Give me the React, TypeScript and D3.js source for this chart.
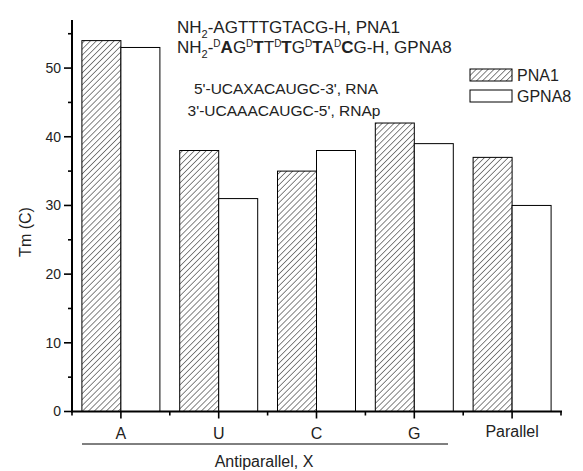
import React from 'react';
import { scaleBand, scaleLinear, range } from 'd3';

const categories = ['A', 'U', 'C', 'G', 'Parallel'];
const seriesNames = ['PNA1', 'GPNA8'];
const pna1 = [54, 38, 35, 42, 37];
const gpna8 = [53, 31, 38, 39, 30];
const majorTicks = [0, 10, 20, 30, 40, 50];
const minorTicks = [5, 15, 25, 35, 45, 55];

const W = 583;
const H = 471;
const FONT = "'Liberation Sans', Arial, sans-serif";

const App = () => {
  const left = 72;
  const right = 561;
  const top = 20;
  const bottom = 411.5;

  const x = scaleBand().domain(categories).range([left, right]).paddingInner(0).paddingOuter(0);
  const xSub = scaleBand().domain(seriesNames).range([0, x.bandwidth()]).paddingInner(0).paddingOuter(0.254);
  const y = scaleLinear().domain([0, 57]).range([bottom, top]);

  const values = { PNA1: pna1, GPNA8: gpna8 };

  const bars = categories.flatMap((c, i) =>
    seriesNames.map(s => {
      const v = values[s][i];
      return (
        <rect
          key={c + s}
          x={x(c) + xSub(s)}
          y={y(v)}
          width={xSub.bandwidth()}
          height={bottom - y(v)}
          fill={s === 'PNA1' ? 'url(#hatch)' : '#fff'}
          stroke="#000"
          strokeWidth={1}
        />
      );
    })
  );

  // edges of the category bands, for the small ticks
  const edges = range(categories.length + 1).map(i => left + i * x.step());

  return (
    <svg width={W} height={H} style={{ position: 'absolute', left: 0, top: 0, background: '#fff' }} fontFamily={FONT}>
      <defs>
        <pattern id="hatch" width={4.2} height={4.2} patternUnits="userSpaceOnUse" patternTransform="rotate(45)">
          <rect width={4.2} height={4.2} fill="#fff" />
          <line x1={0} y1={0} x2={0} y2={4.2} stroke="#222" strokeWidth={1.1} />
        </pattern>
      </defs>

      {bars}

      {/* y axis */}
      <line x1={left} y1={top} x2={left} y2={bottom + 1} stroke="#000" strokeWidth={2} />
      {majorTicks.map(t => (
        <g key={'M' + t}>
          <line x1={left - 8} x2={left} y1={y(t)} y2={y(t)} stroke="#000" strokeWidth={1.6} />
          <text x={61} y={y(t)} dy="0.35em" textAnchor="end" fontSize={14} fill="#222">{t}</text>
        </g>
      ))}
      {minorTicks.map(t => (
        <line key={'m' + t} x1={left - 4} x2={left} y1={y(t)} y2={y(t)} stroke="#000" strokeWidth={1.6} />
      ))}
      <text transform={`translate(31,232) rotate(-90)`} textAnchor="middle" fontSize={16} fill="#222">Tm (C)</text>

      {/* x axis */}
      <line x1={left - 1} y1={bottom} x2={right + 1} y2={bottom} stroke="#000" strokeWidth={2} />
      {edges.map((e, i) => (
        <line key={'e' + i} x1={e} x2={e} y1={bottom} y2={bottom + 4} stroke="#000" strokeWidth={1.6} />
      ))}
      {categories.map(c => (
        <g key={'c' + c}>
          <line x1={x(c) + x.bandwidth() / 2} x2={x(c) + x.bandwidth() / 2} y1={bottom} y2={bottom + 7} stroke="#000" strokeWidth={1.6} />
          <text x={x(c) + x.bandwidth() / 2} y={c === 'Parallel' ? 437 : 439} textAnchor="middle" fontSize={16} fill="#222">{c}</text>
        </g>
      ))}
      <line x1={82} x2={448} y1={444} y2={444} stroke="#000" strokeWidth={1} />
      <text x={264} y={467} textAnchor="middle" fontSize={16} fill="#222">Antiparallel, X</text>

      {/* legend */}
      {seriesNames.map((s, i) => (
        <g key={'lg' + s} transform={`translate(470,${69 + i * 21})`}>
          <rect x={0} y={0} width={42} height={12} fill={s === 'PNA1' ? 'url(#hatch)' : '#fff'} stroke="#000" strokeWidth={1} />
          <text x={47} y={6} dy="0.35em" fontSize={16} fill="#222">{s}</text>
        </g>
      ))}

      {/* sequence annotations */}
      <text x={177} y={33} fontSize={17} fill="#222">
        NH<tspan fontSize={11} dy={5}>2</tspan><tspan dy={-5}>-AGTTTGTACG-H, PNA1</tspan>
      </text>
      <text x={177} y={53} fontSize={17} fill="#222">
        NH<tspan fontSize={11} dy={5}>2</tspan>
        <tspan dy={-5}>-</tspan>
        <tspan fontSize={10} dy={-6}>D</tspan><tspan dy={6} fontWeight="bold">A</tspan><tspan>G</tspan>
        <tspan fontSize={10} dy={-6}>D</tspan><tspan dy={6} fontWeight="bold">T</tspan><tspan>T</tspan>
        <tspan fontSize={10} dy={-6}>D</tspan><tspan dy={6} fontWeight="bold">T</tspan><tspan>G</tspan>
        <tspan fontSize={10} dy={-6}>D</tspan><tspan dy={6} fontWeight="bold">T</tspan><tspan>A</tspan>
        <tspan fontSize={10} dy={-6}>D</tspan><tspan dy={6} fontWeight="bold">C</tspan><tspan>G-H, GPNA8</tspan>
      </text>
      <text x={286} y={94} textAnchor="middle" fontSize={15.5} fill="#222">5'-UCAXACAUGC-3', RNA</text>
      <text x={284} y={116} textAnchor="middle" fontSize={15.5} fill="#222">3'-UCAAACAUGC-5', RNAp</text>
    </svg>
  );
};

export default App;
